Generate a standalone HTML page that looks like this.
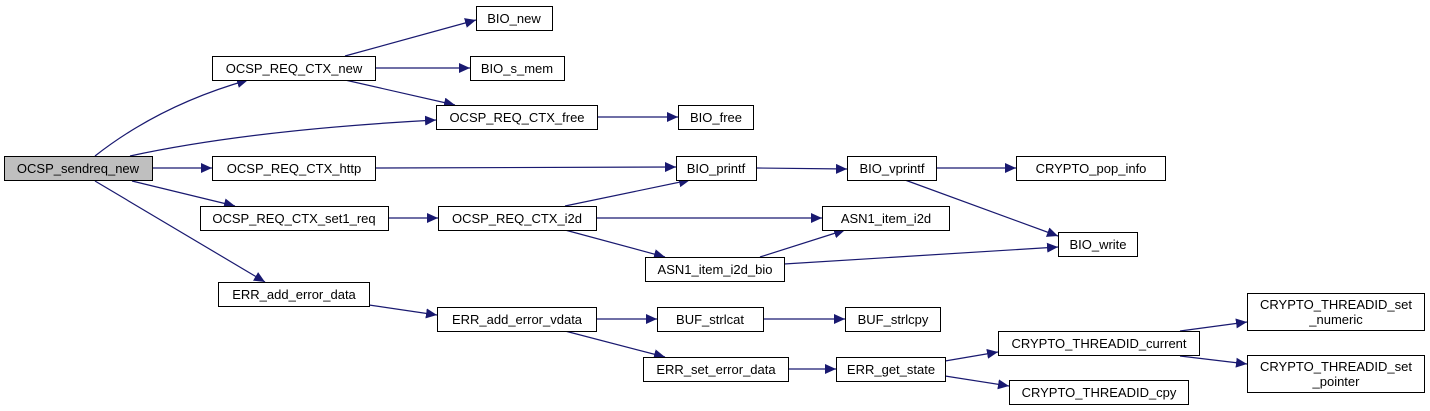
<!DOCTYPE html>
<html><head><meta charset="utf-8"><style>
html,body{margin:0;padding:0;background:#fff;}
svg{display:block;}
text{font-family:"Liberation Sans",Arial,sans-serif;font-size:13px;fill:#000;text-anchor:middle;}
.n{fill:#fff;stroke:#000;stroke-width:1;}
.e{fill:none;stroke:#191970;stroke-width:1.2;}
</style></head><body>
<svg width="1430" height="411" viewBox="0 0 1430 411" xmlns="http://www.w3.org/2000/svg">
<defs><marker id="a" markerWidth="12" markerHeight="10" refX="11" refY="5" orient="auto" markerUnits="userSpaceOnUse"><path d="M0,0 L11,5 L0,10 z" fill="#191970"/></marker></defs>
<g marker-end="url(#a)">
<path class="e" d="M95,156 Q160,105 248,80"/>
<path class="e" d="M130,156 Q250,130 436,120"/>
<path class="e" d="M152,168 L212,168"/>
<path class="e" d="M132,181 L235,206"/>
<path class="e" d="M95,181 L265,282"/>
<path class="e" d="M345,56 L476,20"/>
<path class="e" d="M375,68 L470,68"/>
<path class="e" d="M345,80 L455,105"/>
<path class="e" d="M597,117 L678,117"/>
<path class="e" d="M375,168 L676,167"/>
<path class="e" d="M388,218 L438,218"/>
<path class="e" d="M565,206 L690,180"/>
<path class="e" d="M596,218 L822,218"/>
<path class="e" d="M565,230 L665,257"/>
<path class="e" d="M760,257 L845,230"/>
<path class="e" d="M784,264 L1058,247"/>
<path class="e" d="M756,168 L847,169"/>
<path class="e" d="M936,168 L1016,168"/>
<path class="e" d="M905,180 L1058,236"/>
<path class="e" d="M369,305 L437,315"/>
<path class="e" d="M596,319 L657,319"/>
<path class="e" d="M763,319 L845,319"/>
<path class="e" d="M565,331 L665,357"/>
<path class="e" d="M788,369 L836,369"/>
<path class="e" d="M945,361 L998,352"/>
<path class="e" d="M945,376 L1009,386"/>
<path class="e" d="M1180,331 L1247,322"/>
<path class="e" d="M1180,356 L1247,364"/>
</g>
<rect x="4.5" y="156.5" width="148" height="24" fill="#bfbfbf" stroke="#000"/><text x="78" y="173">OCSP_sendreq_new</text>
<rect class="n" x="212.5" y="56.5" width="163" height="24"/><text x="294" y="73">OCSP_REQ_CTX_new</text>
<rect class="n" x="476.5" y="6.5" width="76" height="24"/><text x="514" y="23">BIO_new</text>
<rect class="n" x="470.5" y="56.5" width="94" height="24"/><text x="517" y="73">BIO_s_mem</text>
<rect class="n" x="436.5" y="105.5" width="161" height="24"/><text x="517" y="122">OCSP_REQ_CTX_free</text>
<rect class="n" x="678.5" y="105.5" width="75" height="24"/><text x="716" y="122">BIO_free</text>
<rect class="n" x="212.5" y="156.5" width="163" height="24"/><text x="294" y="173">OCSP_REQ_CTX_http</text>
<rect class="n" x="676.5" y="156.5" width="80" height="24"/><text x="716" y="173">BIO_printf</text>
<rect class="n" x="847.5" y="156.5" width="89" height="24"/><text x="892" y="173">BIO_vprintf</text>
<rect class="n" x="1016.5" y="156.5" width="149" height="24"/><text x="1091" y="173">CRYPTO_pop_info</text>
<rect class="n" x="200.5" y="206.5" width="188" height="24"/><text x="294" y="223">OCSP_REQ_CTX_set1_req</text>
<rect class="n" x="438.5" y="206.5" width="158" height="24"/><text x="517" y="223">OCSP_REQ_CTX_i2d</text>
<rect class="n" x="822.5" y="206.5" width="127" height="24"/><text x="886" y="223">ASN1_item_i2d</text>
<rect class="n" x="645.5" y="257.5" width="139" height="24"/><text x="715" y="274">ASN1_item_i2d_bio</text>
<rect class="n" x="1058.5" y="232.5" width="79" height="24"/><text x="1098" y="249">BIO_write</text>
<rect class="n" x="218.5" y="282.5" width="151" height="24"/><text x="294" y="299">ERR_add_error_data</text>
<rect class="n" x="437.5" y="307.5" width="159" height="24"/><text x="517" y="324">ERR_add_error_vdata</text>
<rect class="n" x="657.5" y="307.5" width="106" height="24"/><text x="710" y="324">BUF_strlcat</text>
<rect class="n" x="845.5" y="307.5" width="95" height="24"/><text x="893" y="324">BUF_strlcpy</text>
<rect class="n" x="643.5" y="357.5" width="145" height="24"/><text x="716" y="374">ERR_set_error_data</text>
<rect class="n" x="836.5" y="357.5" width="109" height="24"/><text x="891" y="374">ERR_get_state</text>
<rect class="n" x="998.5" y="331.5" width="201" height="24"/><text x="1099" y="348">CRYPTO_THREADID_current</text>
<rect class="n" x="1009.5" y="380.5" width="179" height="24"/><text x="1099" y="397">CRYPTO_THREADID_cpy</text>
<rect class="n" x="1247.5" y="293.5" width="177" height="37"/><text x="1336" y="309">CRYPTO_THREADID_set</text><text x="1336" y="324">_numeric</text>
<rect class="n" x="1247.5" y="355.5" width="177" height="37"/><text x="1336" y="371">CRYPTO_THREADID_set</text><text x="1336" y="386">_pointer</text>
</svg>
</body></html>
